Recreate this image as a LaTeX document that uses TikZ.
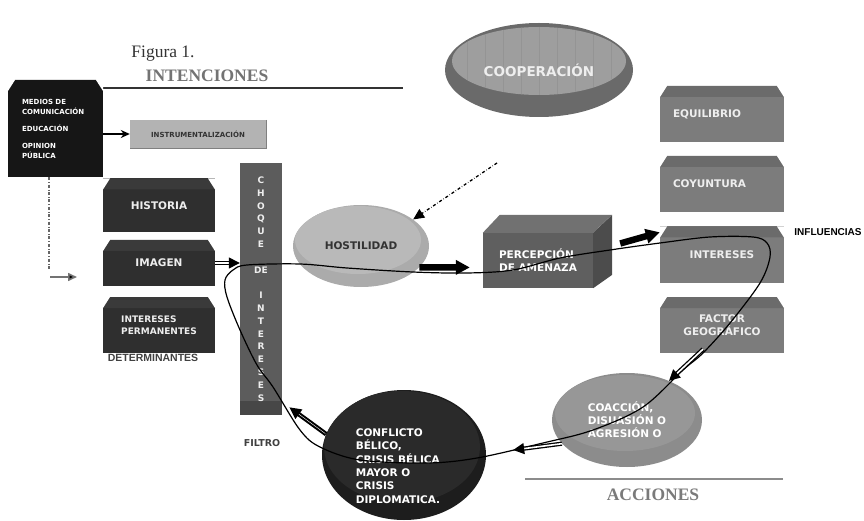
\documentclass[tikz,border=0pt]{standalone}
\usepackage{fontspec}
\setmainfont{Liberation Serif}
\newfontfamily\vfont{DejaVu Sans}
\newfontfamily\afont{Liberation Sans}
\usepackage{tikz}
\usetikzlibrary{positioning,calc,arrows.meta,shapes.geometric}
\definecolor{boxblack}{HTML}{161616}
\definecolor{boxdark}{HTML}{2F2F2F}
\definecolor{banddark}{HTML}{3A3A3A}
\definecolor{boxgray}{HTML}{7C7C7C}
\definecolor{bandgray}{HTML}{6B6B6B}
\definecolor{instrgray}{HTML}{B3B3B3}
\definecolor{choquegray}{HTML}{5C5C5C}
\definecolor{hostgray}{HTML}{ABABAB}
\definecolor{hosttop}{HTML}{B9B9B9}
\definecolor{cubefront}{HTML}{5F5F5F}
\definecolor{cubetop}{HTML}{717171}
\definecolor{cubeside}{HTML}{4C4C4C}
\definecolor{coopout}{HTML}{6A6A6A}
\definecolor{coopin}{HTML}{9E9E9E}
\definecolor{coacgray}{HTML}{8C8C8C}
\definecolor{coactop}{HTML}{979797}
\definecolor{confblack}{HTML}{1D1D1D}
\definecolor{conftop}{HTML}{2A2A2A}
\definecolor{lighttext}{HTML}{EEEEEE}
\tikzset{
  figfont/.style={font=\vfont\bfseries\fontsize{10.5}{13}\selectfont},
  smallfont/.style={font=\vfont\bfseries\fontsize{7}{10}\selectfont},
  headfont/.style={font=\fontsize{17.5}{20}\selectfont},
  headbold/.style={font=\fontsize{17.5}{20}\selectfont\bfseries},
  chamfer/.style={path picture={
      \coordinate (pnw) at (path picture bounding box.north west);
      \coordinate (pne) at (path picture bounding box.north east);
      \fill[#1] ([yshift=-11pt]pnw) -- ([xshift=7pt]pnw) -- ([xshift=-7pt]pne) -- ([yshift=-11pt]pne) -- cycle;
      \fill[white] (pnw) -- ([xshift=7pt]pnw) -- ([yshift=-11pt]pnw) -- cycle;
      \fill[white] (pne) -- ([xshift=-7pt]pne) -- ([yshift=-11pt]pne) -- cycle;
    }},
  graybox/.style={fill=boxgray, chamfer=bandgray, inner sep=0pt, minimum width=124, minimum height=56, text=lighttext},
  darkbox/.style={fill=boxdark, chamfer=banddark, inner sep=0pt, minimum width=112, text=lighttext},
  disc/.style={ellipse, inner sep=0pt},
  plainarrow/.style={-{Stealth[length=9pt,width=8pt]}, line width=1.6pt},
  fatarrow/.style={-{Triangle[length=14pt,width=14pt]}, line width=6.5pt},
  dblarrow/.style={-{Triangle[length=11pt,width=11pt]}, double=white, double distance=1.6pt, line width=1.3pt},
  whitearrow/.style={-{Triangle[length=12pt,width=11pt]}, line width=4.5pt,
    postaction={draw=white, line width=0.4pt, -, shorten >=12pt, shorten <=1pt}},
  dashdotline/.style={dash dot, line width=1.2pt, black!60},
  loopline/.style={line width=1.2pt, black},
}
\begin{document}
\begin{tikzpicture}[x=1pt, y=-1pt, figfont]
\useasboundingbox (0,0) rectangle (864,521);

% headings and rules
\node[headfont, text=black!80] (figura) at (163,54) {Figura 1.};
\node[headbold, text=black!55] (intenciones) at (207,76) {INTENCIONES};
\draw[line width=1.2pt, black!80] (103,88) -- (403,88);
\draw[line width=1.8pt, black!45] (525,479) -- (783,479);
\node[headbold, text=black!52] (acciones) at (653,495) {ACCIONES};

% left column
\node[fill=boxblack, chamfer=boxblack, smallfont, text=white, inner xsep=14pt, inner ysep=0pt,
  text width=67pt, minimum height=97, align=left] (medios) at (55.5,128.5)
  {MEDIOS DE\\COMUNICACIÓN\\[7pt]EDUCACIÓN\\[7pt]OPINION\\PÚBLICA};
\node[fill=instrgray, smallfont, text=black!80, minimum width=136, minimum height=28, inner sep=0pt] (instr) at (198,134) {INSTRUMENTALIZACIÓN};
\draw[black!50, line width=1pt] (instr.north east) -- (instr.south east) -- (instr.south west);
\draw[plainarrow] (medios.east |- instr.west) -- (instr.west);

\coordinate (dashend) at (49,270);
\draw[dashdotline] (medios.south -| dashend) -- (dashend);
\coordinate (grayfrom) at (50,277);
\coordinate (grayto) at (77,277);
\draw[black!55, line width=1.6pt, -{Triangle[length=9pt,width=8pt,fill=black]}] (grayfrom) -- (grayto);

\node[darkbox, minimum height=54] (historia) at (159,205.5) {HISTORIA};
\node[darkbox, minimum height=46] (imagen) at (159,263) {IMAGEN};
\node[darkbox, minimum height=56, align=left, font=\vfont\bfseries\fontsize{9}{12}\selectfont] (permanentes) at (159,325) {INTERESES\\PERMANENTES};
\node[font=\afont\bfseries\fontsize{10.5}{12}\selectfont, text=black!75] (determinantes) at (153,358) {DETERMINANTES};

% filter bar
\node[fill=choquegray, text=lighttext, inner sep=0pt, minimum width=42, minimum height=252, align=center,
  font=\vfont\bfseries\fontsize{9}{12.8}\selectfont,
  path picture={\fill[black!72] ([yshift=14pt]path picture bounding box.south west) rectangle (path picture bounding box.south east);}]
  (choque) at (261,289)
  {C\\H\\O\\Q\\U\\E\\[12.8pt]DE\\[12.8pt]I\\N\\T\\E\\R\\E\\S\\E\\S};
\node[font=\vfont\bfseries\fontsize{9.5}{11}\selectfont, text=black!75] (filtro) at (262,443) {FILTRO};
\draw[dblarrow] (imagen.east) -- (choque.west |- imagen.east);

% cooperation dish
\node[disc, fill=coopout, minimum width=188, minimum height=94, text=lighttext,
  font=\vfont\bfseries\fontsize{13.5}{15}\selectfont,
  path picture={
    \fill[coopin] ([yshift=9pt]path picture bounding box.center) ellipse (87pt and 34pt);
    \begin{scope}
      \clip ([yshift=9pt]path picture bounding box.center) ellipse (87pt and 34pt);
      \foreach \k in {-4,...,4}
        \draw[black!45, line width=0.5pt, opacity=0.5] ([xshift=\k*18pt]path picture bounding box.north) -- ([xshift=\k*18pt]path picture bounding box.south);
    \end{scope}}]
  (cooperacion) at (539,70) {COOPERACIÓN};
\coordinate (dashfree) at (497,163);

% hostility disc and threat cube
\node[disc, fill=hostgray, minimum width=136, minimum height=82, text=black!80,
  path picture={\fill[hosttop] ([shift={(-3pt,6pt)}]path picture bounding box.center) ellipse (63pt and 34pt);}]
  (hostilidad) at (361,246) {HOSTILIDAD};
\draw[dash dot, line width=1.3pt, -{Triangle[length=11pt,width=10pt]}] (dashfree) -- (hostilidad.27);

\node[fill=cubefront, text=white, minimum width=110, minimum height=55, inner sep=0pt, align=left] (percepcion) at (538,260.5) {PERCEPCIÓN\\DE AMENAZA};
\fill[cubetop] (percepcion.north west) -- ++(17pt,18pt) -- ++(112pt,0pt) -- (percepcion.north east) -- cycle;
\fill[cubeside] (percepcion.north east) -- ++(19pt,18pt) -- ++(0pt,-60pt) -- (percepcion.south east) -- cycle;

% influences column
\node[graybox, text width=98pt, inner xsep=13pt, align=left] (equilibrio) at (722,114) {EQUILIBRIO};
\node[graybox, text width=98pt, inner xsep=13pt, align=left] (coyuntura) at (722,184) {COYUNTURA};
\node[graybox, text width=98pt, inner xsep=13pt, align=center] (intereses) at (722,254.5) {INTERESES};
\node[graybox, text width=98pt, inner xsep=13pt, align=center] (factor) at (722,325) {FACTOR\\GEOGRÁFICO};
\node[font=\afont\bfseries\fontsize{10}{12}\selectfont] (influencias) at (828,232) {INFLUENCIAS};

% actions
\node[disc, fill=coacgray, minimum width=150, minimum height=94, text=white, align=left,
  path picture={\fill[coactop] ([shift={(-2pt,7pt)}]path picture bounding box.center) ellipse (70pt and 38pt);}]
  (coaccion) at (627,420) {COACCIÓN,\\DISUASIÓN O\\AGRESIÓN O};
\node[disc, fill=confblack, minimum width=164, minimum height=130,
  path picture={\fill[conftop] ([shift={(-2pt,8pt)}]path picture bounding box.center) ellipse (78pt and 56pt);}]
  (conflicto) at (404,455) {};
\node[text=white, align=left, font=\vfont\bfseries\fontsize{10.5}{13.4}\selectfont] (conflictotxt) at (398,466)
  {CONFLICTO\\BÉLICO,\\CRISIS BÉLICA\\MAYOR O\\CRISIS\\DIPLOMATICA.};

% cycle
\draw[loopline] plot[smooth cycle, tension=0.55] coordinates {
  (247,265) (300,264) (347,268) (413,272) (467,273) (513,270) (560,258) (610,250)
  (660,243) (710,237) (753,237) (767,243) (770,257) (760,283) (730,323) (703,353)
  (683,370) (643,407) (593,430) (543,443) (477,458) (427,463) (360,460) (320,447)
  (300,430) (273,387) (257,365) (240,330) (227,297) (225,280) (233,270)};

\draw[fatarrow] (hostilidad.-20) -- ([yshift=-7pt]percepcion.west) [shorten >=13pt];
\draw[fatarrow] ([shift={(27pt,17pt)}]percepcion.east) -- ([yshift=-6pt]intereses.north west);
\draw[dblarrow] ([xshift=-19pt,yshift=4pt]factor.south) -- (coaccion.43);
\draw[dblarrow] (coaccion.200) -- ([shift={(27pt,5pt)}]conflicto.east);
\draw[whitearrow] (conflicto.165) -- ([shift={(7pt,8pt)}]choque.south east);
\end{tikzpicture}
\end{document}
